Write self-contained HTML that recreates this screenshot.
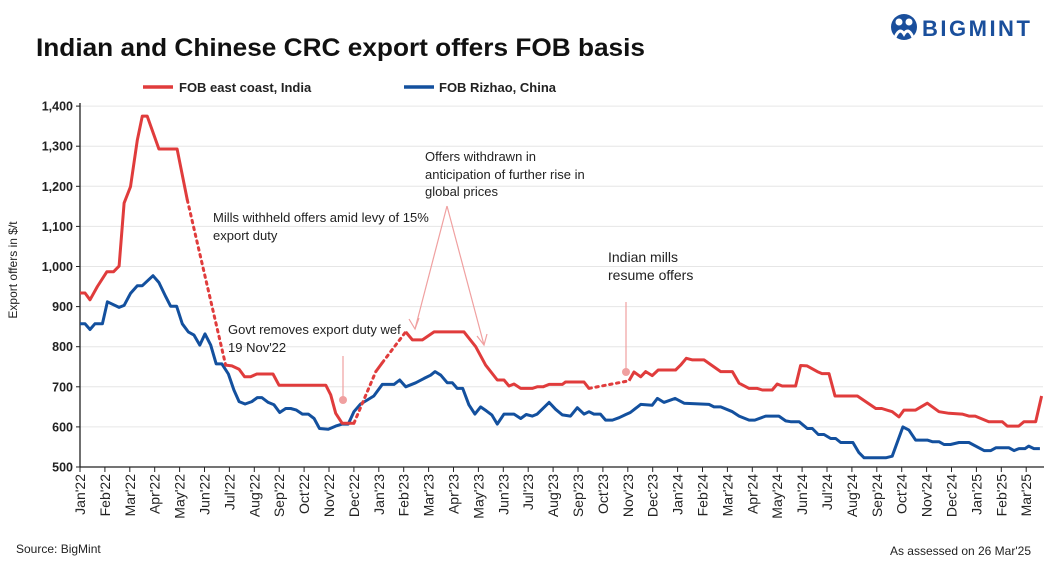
<!DOCTYPE html>
<html><head><meta charset="utf-8">
<style>
body{margin:0;background:#fff;}
svg{display:block;font-family:"Liberation Sans",Arial,sans-serif;}
</style></head>
<body>
<svg id="chart" width="1061" height="562" viewBox="0 0 1061 562">
  <g>
    <circle cx="904" cy="27" r="13" fill="#1a4f9c"/>
    <circle cx="899" cy="22" r="3.5" fill="#fff"/>
    <circle cx="909" cy="22" r="3.5" fill="#fff"/>
    <path d="M894 40 Q899 26 904 34 Q909 26 914 40" stroke="#fff" stroke-width="3" fill="none"/>
    <text x="922" y="36" font-size="22" font-weight="bold" fill="#1a4f9c" letter-spacing="2.5">BIGMINT</text>
  </g>
  <text x="36" y="56" font-size="25" font-weight="bold" fill="#111" textLength="609" lengthAdjust="spacingAndGlyphs">Indian and Chinese CRC export offers FOB basis</text>
  <g>
    <g>
      <line x1="143" y1="87" x2="173" y2="87" stroke="#e03c3c" stroke-width="3.5"/>
      <text x="179" y="92" font-size="13" font-weight="bold" fill="#222">FOB east coast, India</text>
    </g>
    <g>
      <line x1="404" y1="87" x2="434" y2="87" stroke="#13509e" stroke-width="3.5"/>
      <text x="439" y="92" font-size="13" font-weight="bold" fill="#222">FOB Rizhao, China</text>
    </g>
  </g>
  <text transform="translate(17,270) rotate(-90)" text-anchor="middle" font-size="12" fill="#222">Export offers in $/t</text>
  <g id="grid"></g>
  <g id="axes"></g>
  <g id="series"></g>
  <g font-size="13" fill="#222">
    <text x="213" y="222">Mills withheld offers amid levy of 15%</text>
    <text x="213" y="240">export duty</text>
    <text x="228" y="334">Govt removes export duty wef</text>
    <text x="228" y="352">19 Nov'22</text>
    <line x1="343" y1="356" x2="343" y2="398" stroke="#f0a0a0" stroke-width="1.2"/>
    <circle cx="343" cy="400" r="4" fill="#f0a0a0"/>
    <text x="425" y="161">Offers withdrawn in</text>
    <text x="425" y="179">anticipation of further rise in</text>
    <text x="425" y="196">global prices</text>
    <g stroke="#f0a0a0" stroke-width="1.2" fill="none">
      <line x1="447" y1="206" x2="415" y2="329"/>
      <polyline points="409,319 415,329 419,318"/>
      <line x1="447" y1="206" x2="484" y2="345"/>
      <polyline points="477,336 484,345 487,334"/>
    </g>
    <text x="608" y="262" font-size="14">Indian mills</text>
    <text x="608" y="280" font-size="14">resume offers</text>
    <line x1="626" y1="302" x2="626" y2="369" stroke="#f0a0a0" stroke-width="1.2"/>
    <circle cx="626" cy="372" r="4" fill="#f0a0a0"/>
  </g>
  <text x="16" y="553" font-size="12" fill="#222">Source: BigMint</text>
  <text x="1031" y="555" font-size="12" fill="#222" text-anchor="end">As assessed on 26 Mar'25</text>
</svg>
<script>
const monthLabels = ["Jan'22","Feb'22","Mar'22","Apr'22","May'22","Jun'22","Jul'22","Aug'22","Sep'22","Oct'22","Nov'22","Dec'22","Jan'23","Feb'23","Mar'23","Apr'23","May'23","Jun'23","Jul'23","Aug'23","Sep'23","Oct'23","Nov'23","Dec'23","Jan'24","Feb'24","Mar'24","Apr'24","May'24","Jun'24","Jul'24","Aug'24","Sep'24","Oct'24","Nov'24","Dec'24","Jan'25","Feb'25","Mar'25"];
const yTicks = [500,600,700,800,900,1000,1100,1200,1300,1400];
const indiaMonths = [0,0.2,0.4,0.7,1.08,1.35,1.57,1.77,2.03,2.3,2.5,2.7,3.17,3.9,4.31,5.85,6.1,6.39,6.61,6.85,7.1,7.75,7.99,9.87,10.07,10.27,10.53,11.0,11.88,12.14,13.08,13.35,13.75,14.22,15.42,15.89,16.29,16.76,17.03,17.23,17.43,17.7,18.16,18.36,18.6,18.84,19.37,19.5,20.24,20.44,22.05,22.25,22.52,22.72,22.98,23.22,23.92,24.12,24.35,24.6,25.06,25.73,26.2,26.47,26.87,27.2,27.4,27.8,28.0,28.2,28.74,28.94,29.2,29.61,29.8,30.08,30.32,31.22,31.96,32.2,32.62,32.89,33.09,33.56,34.03,34.5,34.9,35.43,35.7,35.95,36.5,37.04,37.24,37.7,37.91,38.38,38.62];
const indiaValues = [934,934,917,950,987,987,1001,1158,1199,1315,1375,1375,1293,1293,1166,754,752,744,725,725,732,732,704,704,680,634,609,609,738,760,837,817,817,837,837,800,754,717,717,702,707,696,696,700,700,706,706,712,712,696,715,737,725,738,728,742,742,754,771,767,767,738,738,709,696,696,692,692,707,702,702,753,752,738,733,733,677,677,646,646,638,625,642,642,659,638,634,632,627,627,613,613,602,602,613,613,677];
const indiaDottedAfter = [4.31,11.0,12.14,20.44];
const chinaMonths = [0,0.2,0.4,0.6,0.9,1.1,1.57,1.77,2.03,2.3,2.5,2.93,3.17,3.44,3.64,3.88,4.11,4.35,4.58,4.81,5.02,5.25,5.47,5.7,5.96,6.18,6.39,6.63,6.9,7.12,7.3,7.56,7.79,8.02,8.26,8.46,8.69,8.93,9.17,9.4,9.62,9.97,10.27,10.53,10.77,11.0,11.27,11.54,11.8,12.14,12.61,12.84,13.08,13.48,13.82,14.08,14.26,14.49,14.75,14.95,15.15,15.37,15.62,15.86,16.09,16.32,16.54,16.76,17.03,17.43,17.7,17.92,18.16,18.36,18.84,19.1,19.37,19.7,19.97,20.24,20.44,20.64,20.9,21.11,21.38,21.65,21.92,22.1,22.52,22.98,23.19,23.45,23.9,24.26,25.26,25.46,25.73,26.2,26.47,26.87,27.1,27.54,28.07,28.34,28.54,28.88,29.21,29.41,29.65,29.88,30.15,30.35,30.55,31.04,31.28,31.49,32.36,32.62,33.05,33.29,33.56,34.03,34.23,34.5,34.7,34.96,35.3,35.7,36.31,36.58,36.78,37.31,37.51,37.71,37.95,38.1,38.31,38.55];
const chinaValues = [857,857,843,857,857,912,898,903,933,952,952,977,960,925,901,901,857,837,829,804,832,804,757,757,732,692,663,657,663,673,673,661,655,636,646,646,642,632,632,621,596,594,602,607,607,638,657,667,677,706,706,717,700,710,721,729,738,729,710,710,696,696,655,632,650,640,630,607,632,632,621,631,627,632,661,644,630,627,648,632,638,632,632,617,617,623,631,636,656,654,671,661,671,659,656,650,650,638,627,617,617,627,627,615,613,613,596,596,581,581,571,571,561,561,536,523,523,527,600,592,567,567,563,563,556,556,561,561,541,541,548,548,541,546,546,552,546,546];

const NS = "http://www.w3.org/2000/svg";
const X0 = 80, MONTH_W = 24.9, Y0 = 467, PX_PER = 0.401;
const xScale = m => X0 + m * MONTH_W;
const yScale = v => Y0 - (v - 500) * PX_PER;
function mk(tag, attrs, parent){const e=document.createElementNS(NS,tag);for(const k in attrs)e.setAttribute(k,attrs[k]);parent.appendChild(e);return e;}

const grid = document.getElementById('grid');
const axes = document.getElementById('axes');
yTicks.forEach(v=>{
  const y=yScale(v);
  if(v>500){const g=mk('line',{x1:X0,x2:1043,y1:y,y2:y,stroke:'#e6e6e6','stroke-width':1},grid);
  
  }
  mk('line',{x1:X0-4,x2:X0,y1:y,y2:y,stroke:'#222','stroke-width':1},axes);
  const t=mk('text',{x:X0-7,y:y+4.5,'text-anchor':'end','font-size':12.5,'font-weight':'bold',fill:'#222'},axes);
  t.textContent=v.toLocaleString('en-US');
  
  
});
const ya=mk('line',{x1:X0,x2:X0,y1:103,y2:Y0,stroke:'#222','stroke-width':1.3},axes);


const xa=mk('line',{x1:X0,x2:1044,y1:Y0,y2:Y0,stroke:'#222','stroke-width':1.3},axes);


monthLabels.forEach((lab,i)=>{
  const x=xScale(i);
  mk('line',{x1:x,x2:x,y1:Y0,y2:Y0+5,stroke:'#222','stroke-width':1},axes);
  const t=mk('text',{transform:`translate(${x+5},${Y0+7}) rotate(-90)`,'text-anchor':'end','font-size':14,fill:'#222'},axes);
  t.textContent=lab;
  
  
});

const series=document.getElementById('series');
const cp=chinaMonths.map((m,i)=>xScale(m).toFixed(1)+','+yScale(chinaValues[i]).toFixed(1)).join(' ');
const cl=mk('polyline',{points:cp,fill:'none',stroke:'#13509e','stroke-width':3,'stroke-linejoin':'round'},series);


let run=[];
function flush(){if(run.length>1){const p=mk('polyline',{points:run.join(' '),fill:'none',stroke:'#e03c3c','stroke-width':3,'stroke-linejoin':'round'},series);

}run=[];}
for(let i=0;i<indiaMonths.length;i++){
  run.push(xScale(indiaMonths[i]).toFixed(1)+','+yScale(indiaValues[i]).toFixed(1));
  if(indiaDottedAfter.includes(indiaMonths[i]) && i<indiaMonths.length-1){
    flush();
    const d=mk('line',{x1:xScale(indiaMonths[i]),y1:yScale(indiaValues[i]),x2:xScale(indiaMonths[i+1]),y2:yScale(indiaValues[i+1]),stroke:'#e03c3c','stroke-width':3,'stroke-dasharray':'2.5 4.5','stroke-linecap':'round'},series);
    
    
  }
}
flush();
</script>
</body></html>
